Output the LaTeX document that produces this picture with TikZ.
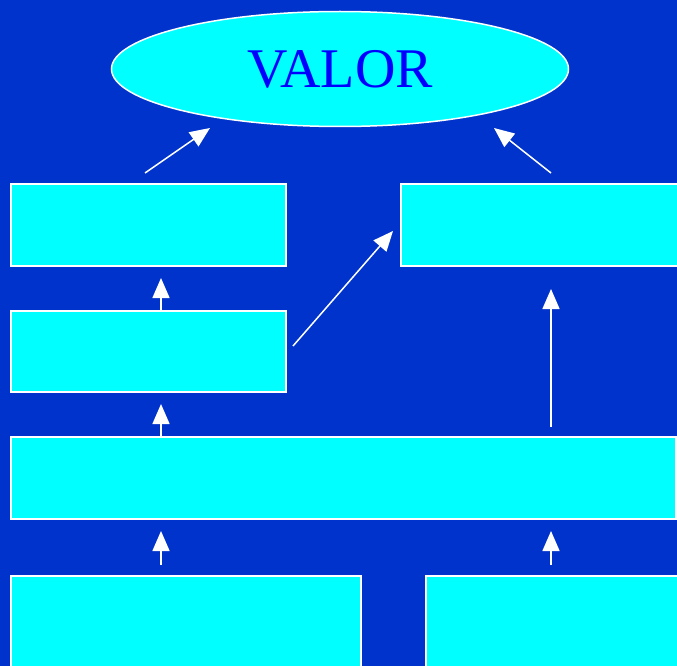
\documentclass[tikz,border=0pt]{standalone}
\usepackage{fontspec}
\setmainfont{Liberation Serif}
\usetikzlibrary{shapes.geometric,arrows.meta}
\definecolor{bgblue}{HTML}{0033CC}
\definecolor{boxcyan}{HTML}{00FFFF}
\definecolor{txtblue}{HTML}{0000FF}
\tikzset{
  box/.style={draw=white, line width=1.5pt, fill=boxcyan, rectangle, inner sep=0pt, outer sep=0pt, anchor=north west},
  valor/.style={draw=white, line width=1.5pt, fill=boxcyan, ellipse, inner sep=0pt, minimum width=457pt, minimum height=115pt, text=txtblue, font=\fontsize{56}{60}\selectfont},
  arr/.style={draw=white, line width=1.5pt, -{Triangle[length=20pt,width=17pt]}}
}
\begin{document}
\begin{tikzpicture}[x=1pt,y=-1pt]
\useasboundingbox (0,0) rectangle (677,666);
\fill[bgblue] (0,0) rectangle (677,666);
\clip (0,0) rectangle (677,666);
\node[valor] (v) at (340,69) {\raisebox{-2pt}{VALOR}};
\node[box, minimum width=275pt, minimum height=82pt] (b1) at (11,184) {};
\node[box, minimum width=300pt, minimum height=82pt] (b2) at (401,184) {};
\node[box, minimum width=275pt, minimum height=81pt] (b3) at (11,311) {};
\node[box, minimum width=665pt, minimum height=82pt] (b4) at (11,437) {};
\node[box, minimum width=350pt, minimum height=120pt] (b5) at (11,576) {};
\node[box, minimum width=300pt, minimum height=120pt] (b6) at (426,576) {};
% arrow end points
\coordinate (a1s) at (145,173); \coordinate (a1e) at (210,128);
\coordinate (a2s) at (551,173); \coordinate (a2e) at (494,128);
\coordinate (a3s) at (161,311); \coordinate (a3e) at (161,278);
\coordinate (a4s) at (293,346); \coordinate (a4e) at (393,231);
\coordinate (a5s) at (551,427); \coordinate (a5e) at (551,289);
\coordinate (a6s) at (161,437); \coordinate (a6e) at (161,404);
\coordinate (a7s) at (161,565); \coordinate (a7e) at (161,531);
\coordinate (a8s) at (551,565); \coordinate (a8e) at (551,531);
\draw[arr] (a1s) -- (a1e);
\draw[arr] (a2s) -- (a2e);
\draw[arr] (a3s) -- (a3e);
\draw[arr] (a4s) -- (a4e);
\draw[arr] (a5s) -- (a5e);
\draw[arr] (a6s) -- (a6e);
\draw[arr] (a7s) -- (a7e);
\draw[arr] (a8s) -- (a8e);
\end{tikzpicture}
\end{document}
